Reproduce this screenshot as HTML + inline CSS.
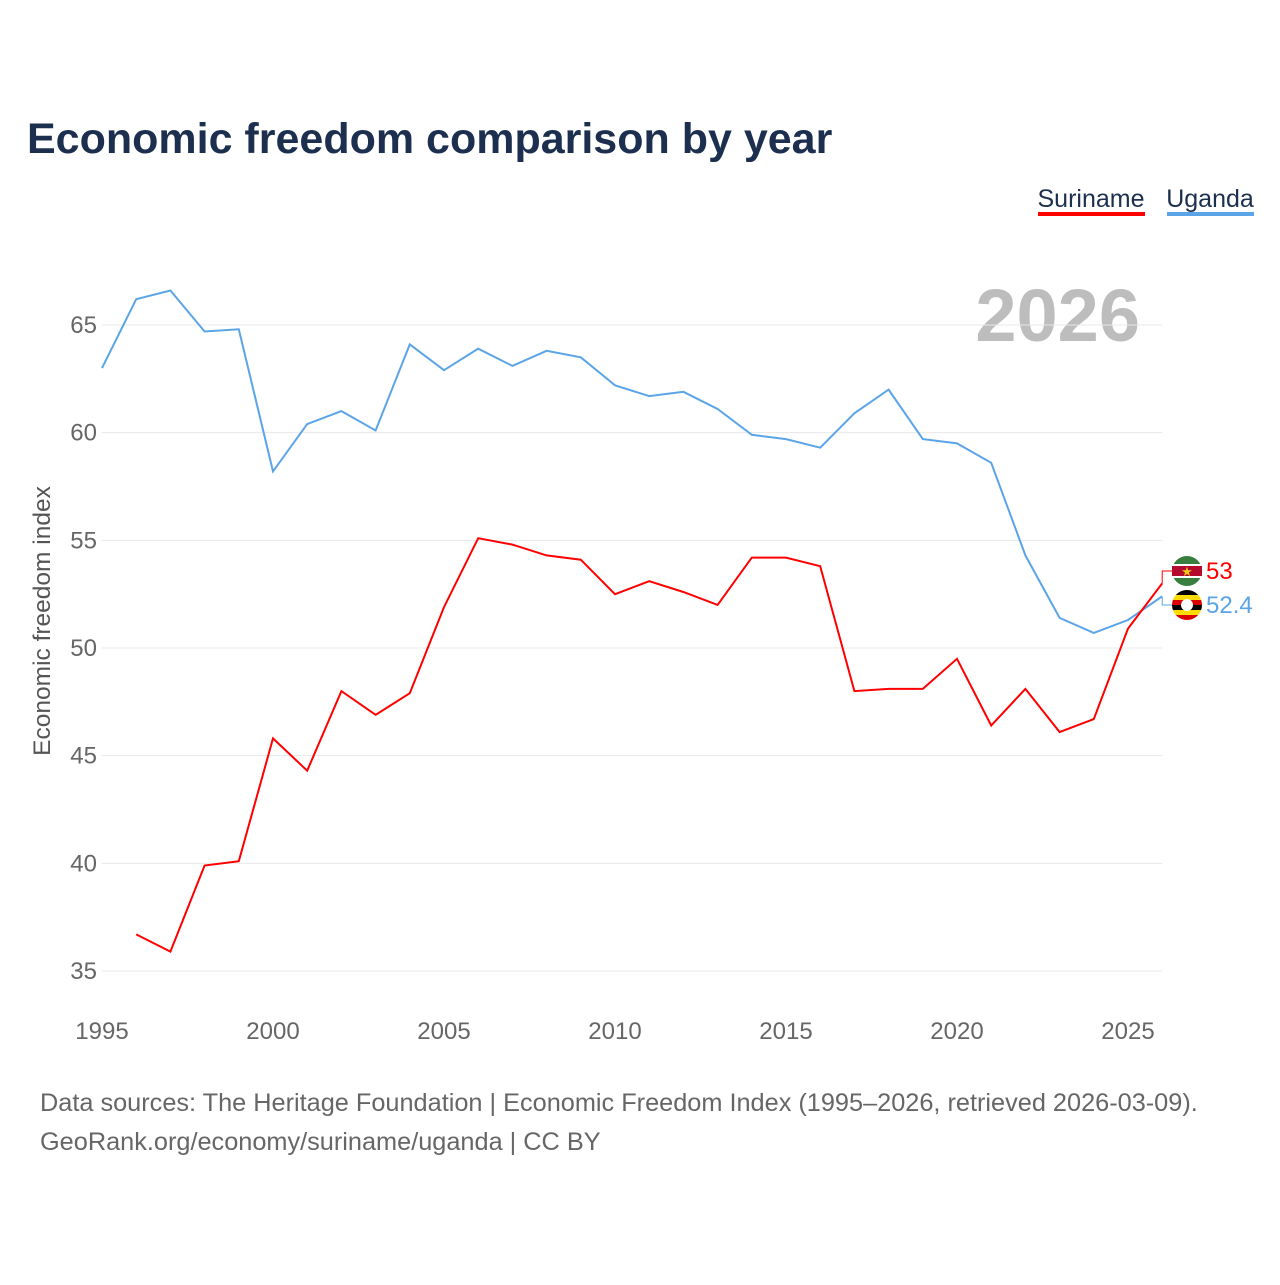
<!DOCTYPE html>
<html><head><meta charset="utf-8"><style>
body{margin:0;background:#fff;font-family:"Liberation Sans",sans-serif}
</style></head><body>
<svg width="1280" height="1280" viewBox="0 0 1280 1280" xmlns="http://www.w3.org/2000/svg" id="svg">
<rect width="1280" height="1280" fill="#fff"/>
<text x="27" y="153" font-size="43" font-weight="bold" fill="#1c2f4f">Economic freedom comparison by year</text>
<g>
<text x="1091" y="207" font-size="25" fill="#1c2f4f" text-anchor="middle">Suriname</text>
<rect x="1038" y="212" width="107" height="4" fill="#ff0000"/>
<text x="1210" y="207" font-size="25" fill="#1c2f4f" text-anchor="middle">Uganda</text>
<rect x="1167" y="212" width="87" height="4" fill="#5ba4e8"/>
</g>
<text x="1140" y="341" font-size="74" font-weight="bold" fill="#bdbdbd" text-anchor="end">2026</text>
<text transform="translate(50,621) rotate(-90)" font-size="24.5" fill="#555" text-anchor="middle">Economic freedom index</text>
<g id="grid"></g><g id="lines"></g><g id="labels"></g>
<text x="40" y="1111" font-size="25.3" fill="#666">Data sources: The Heritage Foundation | Economic Freedom Index (1995–2026, retrieved 2026-03-09).</text>
<text x="40" y="1150" font-size="25.3" fill="#666">GeoRank.org/economy/suriname/uganda | CC BY</text>
</svg>
<script>
const years=[1995,1996,1997,1998,1999,2000,2001,2002,2003,2004,2005,2006,2007,2008,2009,2010,2011,2012,2013,2014,2015,2016,2017,2018,2019,2020,2021,2022,2023,2024,2025,2026];
const uganda=[63.0,66.2,66.6,64.7,64.8,58.2,60.4,61.0,60.1,64.1,62.9,63.9,63.1,63.8,63.5,62.2,61.7,61.9,61.1,59.9,59.7,59.3,60.9,62.0,59.7,59.5,58.6,54.3,51.4,50.7,51.3,52.4];
const suriname=[null,36.7,35.9,39.9,40.1,45.8,44.3,48.0,46.9,47.9,51.9,55.1,54.8,54.3,54.1,52.5,53.1,52.6,52.0,54.2,54.2,53.8,48.0,48.1,48.1,49.5,46.4,48.1,46.1,46.7,50.9,53.0];
const yTicks=[35,40,45,50,55,60,65];
const xTicks=[1995,2000,2005,2010,2015,2020,2025];
const NS="http://www.w3.org/2000/svg";
const X=y=>102+(y-1995)*(1128-102)/30;
const Y=v=>325+(65-v)*(971-325)/30;
function mk(t,a,p){const e=document.createElementNS(NS,t);for(const k in a)e.setAttribute(k,a[k]);p.appendChild(e);return e;}
const grid=document.getElementById('grid'),lines=document.getElementById('lines'),labels=document.getElementById('labels');
yTicks.forEach(v=>{
 const l=mk('line',{x1:102,x2:1162,y1:Y(v),y2:Y(v),stroke:'#e8e8e8','stroke-width':1},grid);
 
 
 const t=mk('text',{x:97,y:Y(v)+8,'font-size':24,fill:'#666','text-anchor':'end'},grid);t.textContent=v;
 
 
});
xTicks.forEach(y=>{
 const t=mk('text',{x:X(y),y:1039,'font-size':24,fill:'#666','text-anchor':'middle'},grid);t.textContent=y;
 
 
});
function line(vals,color,name){
 let d='';vals.forEach((v,i)=>{if(v==null)return;d+=(d?'L':'M')+X(years[i]).toFixed(1)+','+Y(v).toFixed(1);});
 const p=mk('path',{d:d,fill:'none',stroke:color,'stroke-width':2},lines);
 
 
}
line(uganda,'#5ba4e8','uganda-line');
line(suriname,'#ff0000','suriname-line');
function endLabel(v,ly,color,name,flag){
 const x=X(2026),y=Y(v);
 const c=mk('path',{d:`M${x},${y}L${x},${ly}L${x+12},${ly}`,fill:'none',stroke:color,'stroke-width':1},labels);
 
 
 const g=mk('g',{},labels);
 
 
 const cx=1187;
 if(flag==='sr'){
  mk('circle',{cx:cx,cy:ly,r:15,fill:'#377e3f'},g);
  mk('rect',{x:cx-15,y:ly-7,width:30,height:14,fill:'#fff'},g);
  mk('rect',{x:cx-15,y:ly-5,width:30,height:10,fill:'#b40a2d'},g);
  const s=mk('text',{x:cx,y:ly+5,'font-size':13,fill:'#ecc81d','text-anchor':'middle'},g);s.textContent='★';
 }else{
  const cols=['#000','#fcdc04','#d90000','#000','#fcdc04','#d90000'];
  const cp=mk('clipPath',{id:'ugc'},g);mk('circle',{cx:cx,cy:ly,r:15},cp);
  const gg=mk('g',{'clip-path':'url(#ugc)'},g);
  cols.forEach((c,i)=>mk('rect',{x:cx-15,y:ly-15+i*5,width:30,height:5,fill:c},gg));
  mk('circle',{cx:cx,cy:ly,r:6,fill:'#fff'},gg);
 }
 const t=mk('text',{x:1206,y:ly+8,'font-size':24,fill:color},labels);t.textContent=v;
 
 
}
endLabel(suriname[suriname.length-1],571,'#ff0000','suriname-end','sr');
endLabel(uganda[uganda.length-1],605,'#5ba4e8','uganda-end','ug');
</script>
</body></html>
